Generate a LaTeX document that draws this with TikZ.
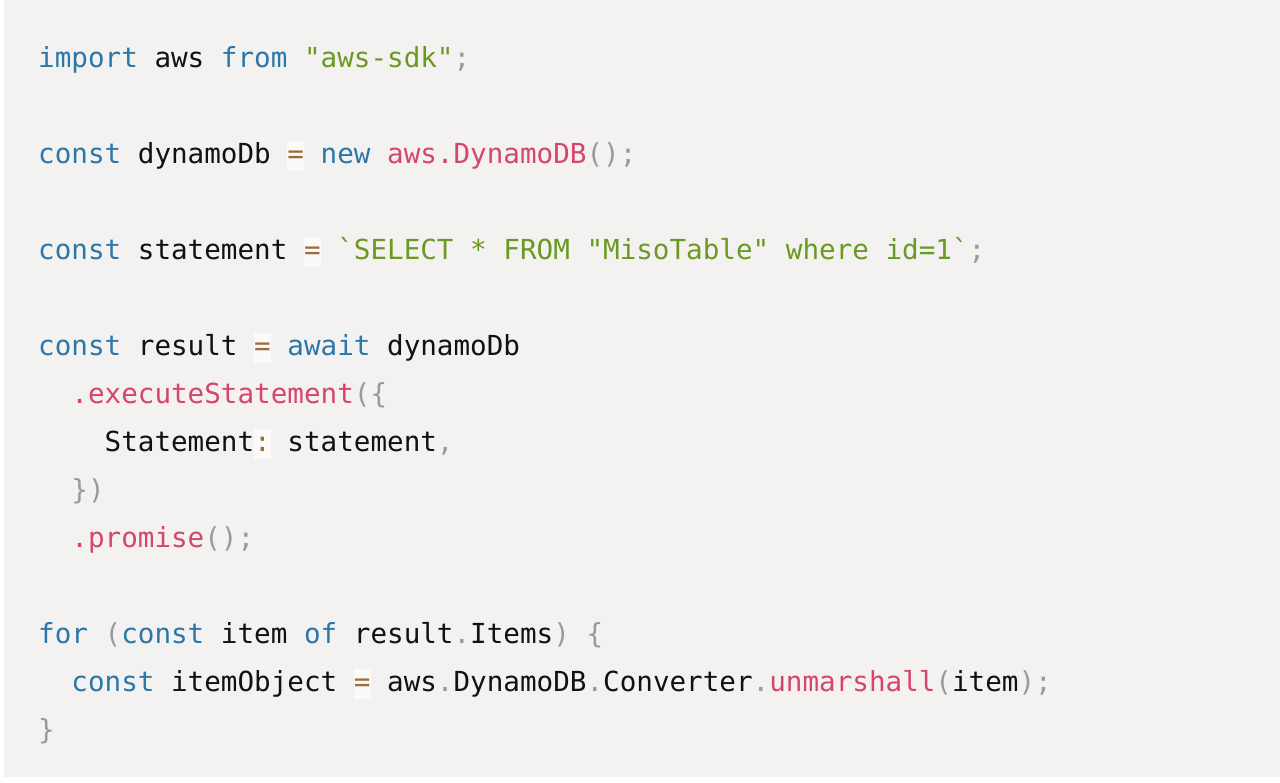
\documentclass[tikz,border=0pt]{standalone}
\usepackage{fontspec}
\setmonofont{DejaVu Sans Mono}
\definecolor{bgc}{HTML}{F4F2F0}
\definecolor{kwc}{HTML}{2B77A8}
\definecolor{stc}{HTML}{6A9A23}
\definecolor{fnc}{HTML}{D5466B}
\definecolor{puc}{HTML}{9A9A9A}
\definecolor{opc}{HTML}{9A6E3A}
\definecolor{opbg}{HTML}{FBFAF8}
\definecolor{txc}{HTML}{111111}
\newcommand\kw[1]{\textcolor{kwc}{#1}}
\newcommand\stx[1]{\textcolor{stc}{#1}}
\newcommand\fn[1]{\textcolor{fnc}{#1}}
\newcommand\pu[1]{\textcolor{puc}{#1}}
\newcommand\opx[1]{{\setlength\fboxsep{0pt}\colorbox{opbg}{\rule[-8pt]{0pt}{30pt}\textcolor{opc}{#1}}}}
\newcommand\ind{\phantom{xx}}
\begin{document}
\begin{tikzpicture}[x=1pt,y=-1pt,
  codeline/.style={anchor=base west,inner sep=0pt,font=\ttfamily\fontsize{27.6}{30}\selectfont,text=txc}]
\useasboundingbox (0,0) rectangle (1280,782);
\fill[white] (0,0) rectangle (1280,782);
\fill[bgc] (4,0) rectangle (1280,777);
\node[codeline] (l1) at (38,67) {\kw{import} aws \kw{from} \stx{"aws-sdk"}\pu{;}};
\node[codeline] (l2) at (38,163) {\kw{const} dynamoDb \opx{=} \kw{new} \fn{aws.DynamoDB}\pu{();}};
\node[codeline] (l3) at (38,259) {\kw{const} statement \opx{=} \stx{\symbol{96}SELECT * FROM "MisoTable" where id=1\symbol{96}}\pu{;}};
\node[codeline] (l4) at (38,355) {\kw{const} result \opx{=} \kw{await} dynamoDb};
\node[codeline] (l5) at (38,403) {\ind\fn{.executeStatement}\pu{(\{}};
\node[codeline] (l6) at (38,451) {\ind\ind Statement\opx{:} statement\pu{,}};
\node[codeline] (l7) at (38,499) {\ind\pu{\})}};
\node[codeline] (l8) at (38,547) {\ind\fn{.promise}\pu{();}};
\node[codeline] (l9) at (38,643) {\kw{for} \pu{(}\kw{const} item \kw{of} result\pu{.}Items\pu{)} \pu{\{}};
\node[codeline] (l10) at (38,691) {\ind\kw{const} itemObject \opx{=} aws\pu{.}DynamoDB\pu{.}Converter\pu{.}\fn{unmarshall}\pu{(}item\pu{);}};
\node[codeline] (l11) at (38,739) {\pu{\}}};
\end{tikzpicture}
\end{document}
